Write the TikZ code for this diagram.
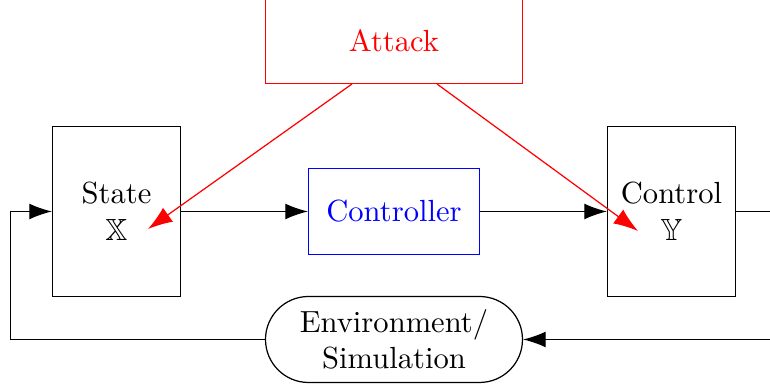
\documentclass[tikz,border=0pt]{standalone}
\usepackage{amssymb}
\usetikzlibrary{arrows.meta,shapes.misc}

\tikzset{
  blockbox/.style={draw, rectangle, align=center, inner sep=0pt},
  envbox/.style={draw, rounded rectangle, align=center, inner sep=0pt},
  flow/.style={-{Latex[length=7.4pt,width=5.2pt]}},
  attackflow/.style={red, -{Latex[length=8pt,width=5.6pt]}},
}

\begin{document}
\begin{tikzpicture}[x=0.327pt, y=-0.327pt]
  \clip (0,0) rectangle (770,387);

  % blocks of the control loop
  \node[blockbox, red, minimum width=257*0.327pt, minimum height=86*0.327pt]
    (attack) at (394,40.5) {Attack};
  \node[blockbox, minimum width=128*0.327pt, minimum height=170*0.327pt]
    (state) at (116.5,211.5) {State\\$\mathbb{X}$};
  \node[blockbox, blue, minimum width=171*0.327pt, minimum height=86*0.327pt]
    (ctrl) at (394,211.5) {Controller};
  \node[blockbox, minimum width=128*0.327pt, minimum height=170*0.327pt]
    (control) at (671.5,211.5) {Control\\$\mathbb{Y}$};
  \node[envbox, minimum width=257*0.327pt, minimum height=86*0.327pt]
    (env) at (394,339.5) {Environment/\\Simulation};

  % forward path
  \draw[flow] (state.east) -- (ctrl.west);
  \draw[flow] (ctrl.east) -- (control.west);

  % feedback path through the environment
  \coordinate (outR) at (800,211.5);
  \coordinate (outL) at (10.5,339.5);
  \draw[flow] (control.east) -- (outR) |- (env.east);
  \draw[flow] (env.west) -- (outL) |- (state.west);

  % attack injection points
  \coordinate (aL) at (352,84);
  \coordinate (aR) at (437,84);
  \coordinate (hitX) at (148,229);
  \coordinate (hitY) at (638,231);
  \draw[attackflow] (aL) -- (hitX);
  \draw[attackflow] (aR) -- (hitY);
\end{tikzpicture}
\end{document}
